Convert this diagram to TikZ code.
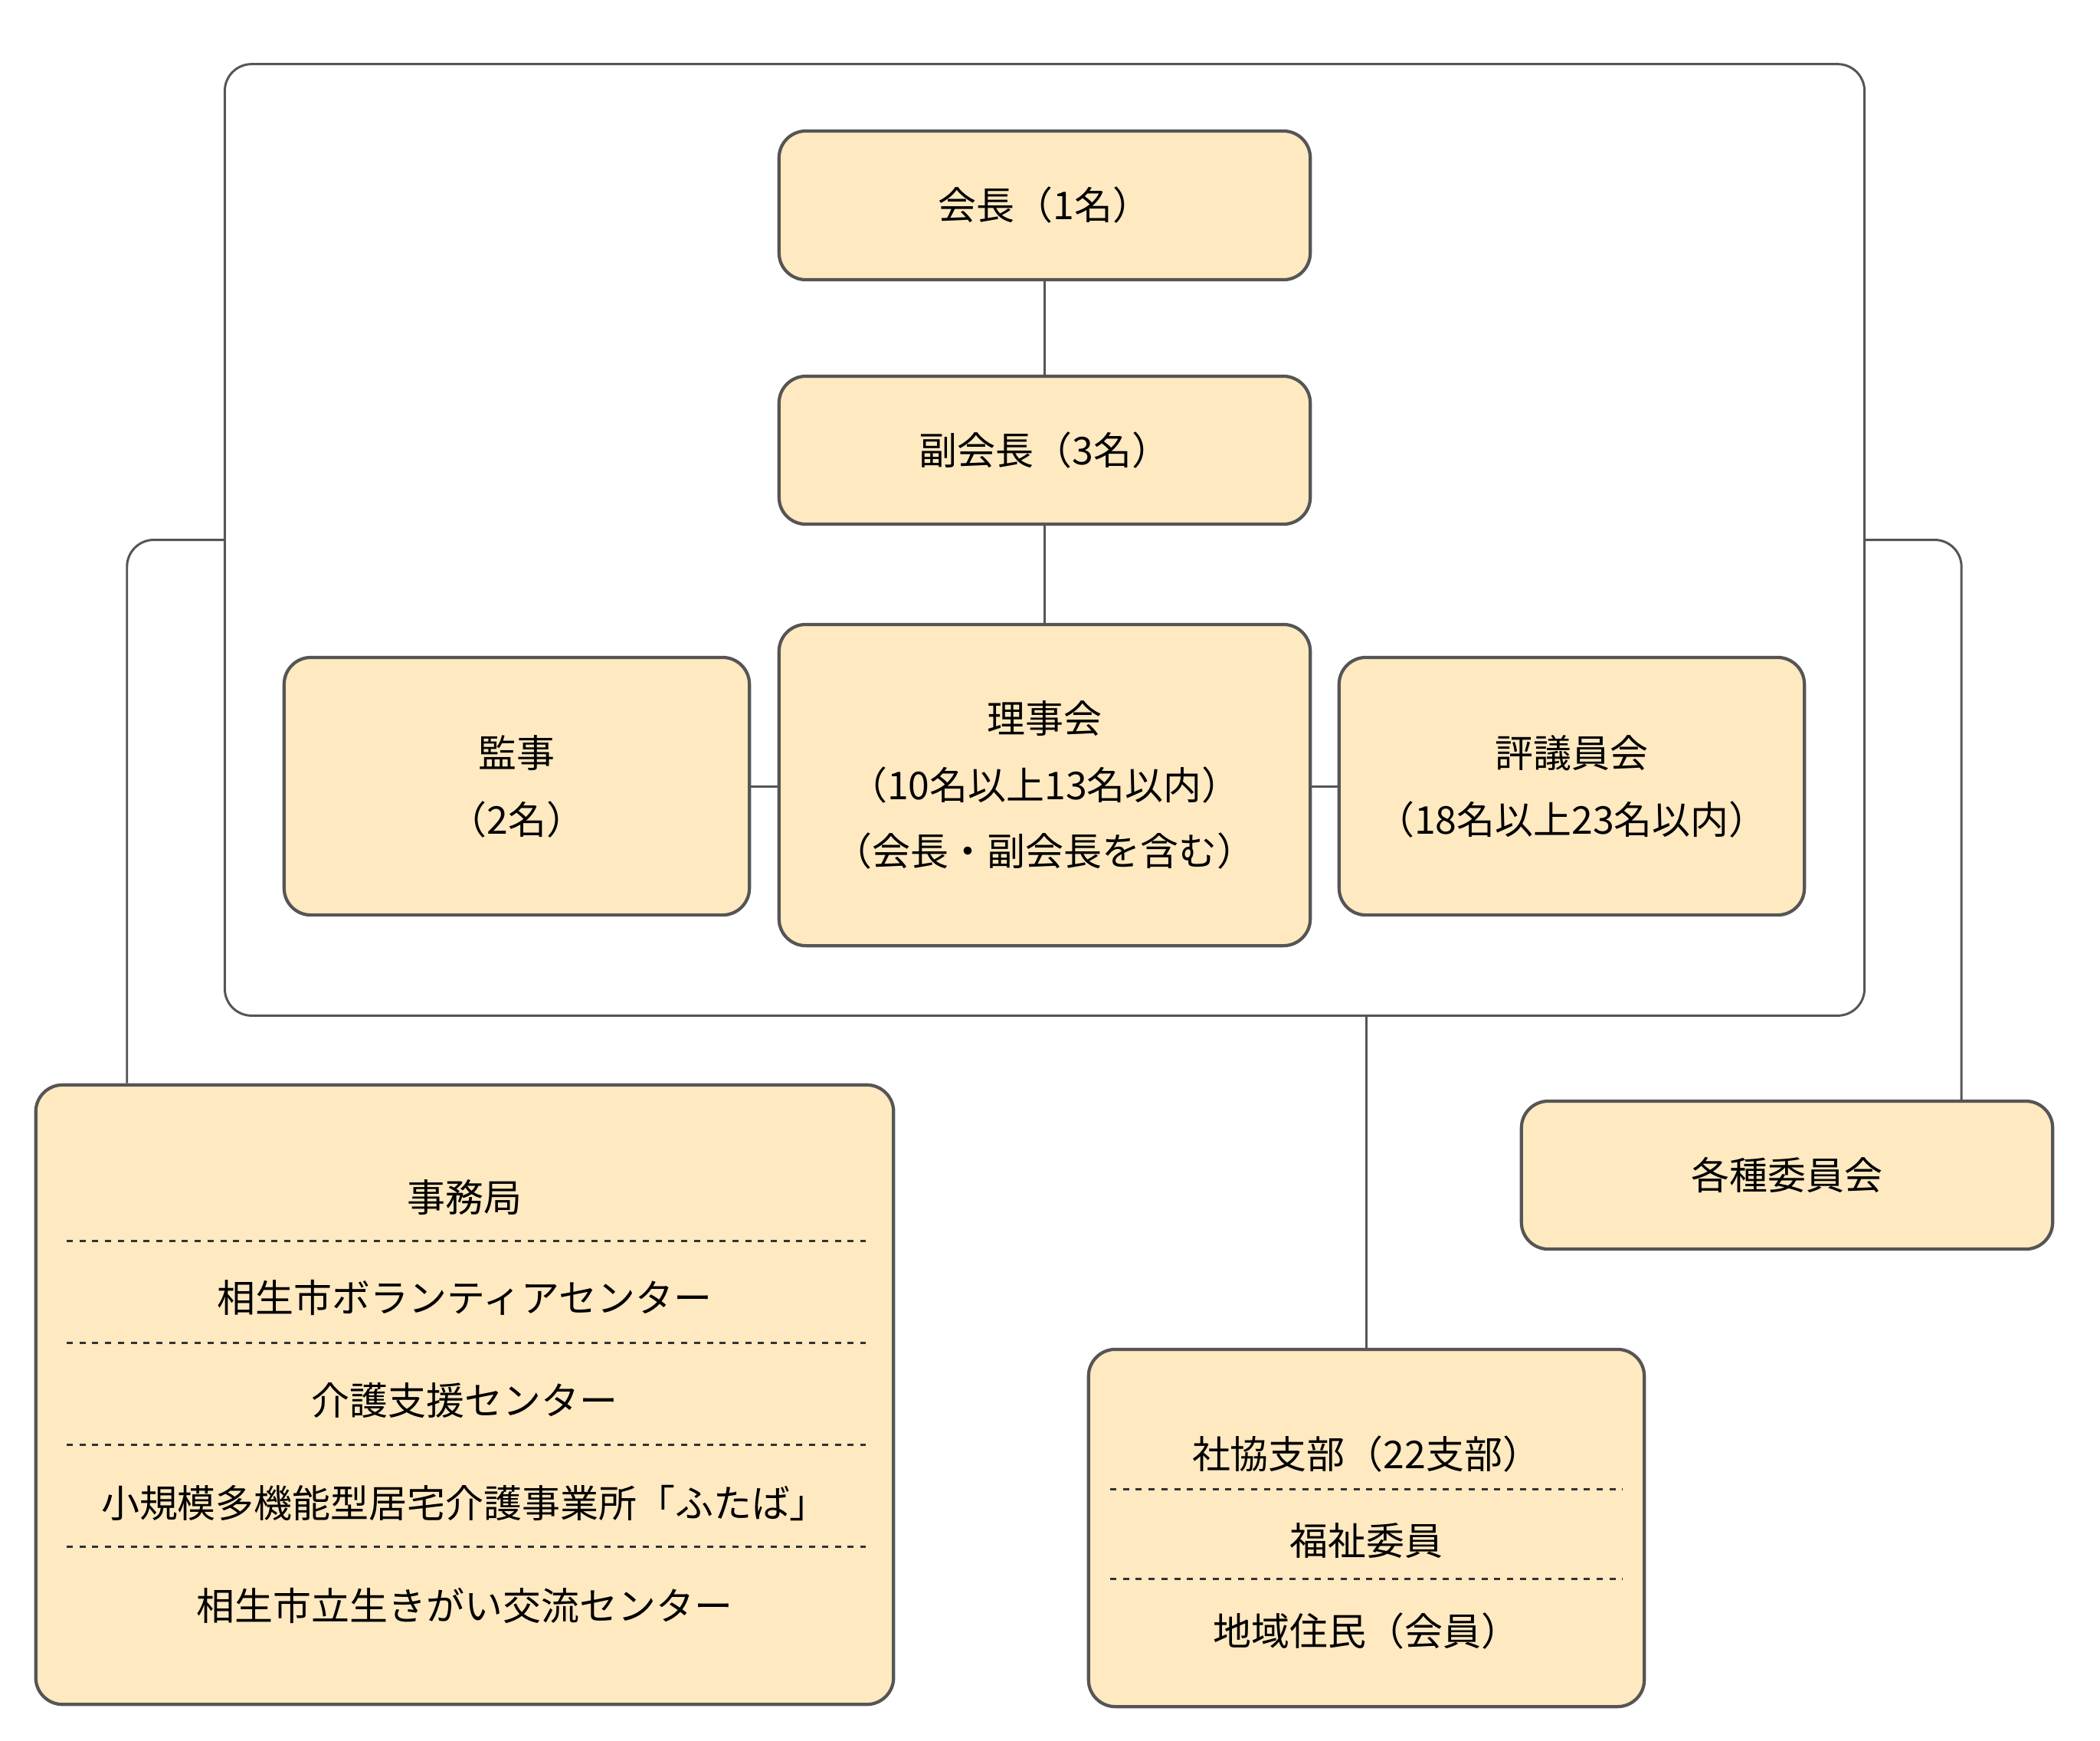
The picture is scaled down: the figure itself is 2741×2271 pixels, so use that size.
\documentclass[tikz,border=0pt]{standalone}
\usepackage{fontspec}
\setmainfont{Noto Sans CJK JP}
\definecolor{boxfill}{HTML}{FEE9C1}
\definecolor{edge}{HTML}{555555}
\definecolor{sepc}{HTML}{333333}
\begin{document}
\begin{tikzpicture}[x=0.01cm,y=-0.01cm,
  box/.style={draw=edge, line width=1.2pt, fill=boxfill, rounded corners=0.35cm, inner sep=0pt,
    font=\fontsize{14.2pt}{24.7pt}\selectfont, align=center, text=black},
  conn/.style={draw=edge, line width=0.85pt},
  sepline/.style={draw=sepc, line width=0.85pt, dash pattern=on 0.08cm off 0.087cm},
  lbl/.style={font=\fontsize{14.2pt}{24.7pt}\selectfont, align=center, inner sep=0pt, text=black}]
\useasboundingbox (0,0) rectangle (2741,2271);

% outer frame
\node[draw=edge, line width=0.85pt, rounded corners=0.35cm, minimum width=21.39cm, minimum height=12.41cm, inner sep=0pt] (outer) at (1363.5,704.5) {};

% boxes
\node[box, minimum width=6.93cm, minimum height=1.94cm] (kaicho) at (1363.5,268) {会長（1名）};
\node[box, minimum width=6.93cm, minimum height=1.93cm] (fuku) at (1363.5,587.5) {副会長（3名）};
\node[box, minimum width=6.93cm, minimum height=4.19cm] (riji) at (1363.5,1024.5) {理事会\\（10名以上13名以内）\\（会長・副会長を含む）};
\node[box, minimum width=6.07cm, minimum height=3.36cm] (kanji) at (674.5,1026) {監事\\（2名）};
\node[box, minimum width=6.07cm, minimum height=3.36cm] (hyogi) at (2051.5,1026) {評議員会\\（18名以上23名以内）};
\node[box, minimum width=11.19cm, minimum height=8.08cm] (jimu) at (606.5,1820) {};
\node[box, minimum width=6.93cm, minimum height=1.93cm] (kakushu) at (2332.5,1533.5) {各種委員会};
\node[box, minimum width=7.25cm, minimum height=4.66cm] (shakyo) at (1783.5,1994) {};

% connectors
\draw[conn] (kaicho) -- (fuku);
\draw[conn] (fuku) -- (riji);
\draw[conn] (kanji.east) -- (kanji.east -| riji.west);
\draw[conn] (hyogi.west -| riji.east) -- (hyogi.west);
\draw[conn, rounded corners=0.35cm] (outer.west) -| ([xshift=-4.405cm]jimu.north);
\draw[conn, rounded corners=0.35cm] (outer.east) -| ([xshift=2.275cm]kakushu.north);
\draw[conn] (outer.south -| shakyo.north) -- (shakyo.north);

% jimu contents
\node[lbl] (j1) at (606.5,1563) {事務局};
\node[lbl] (j2) at (606.5,1693) {相生市ボランティアセンター};
\node[lbl] (j3) at (606.5,1828) {介護支援センター};
\node[lbl] (j4) at (606.5,1961) {小規模多機能型居宅介護事業所「ふたば」};
\node[lbl] (j5) at (606.5,2095) {相生市立生きがい交流センター};
\draw[sepline] (87,1619) -- (1130,1619);
\draw[sepline] (87,1752) -- (1130,1752);
\draw[sepline] (87,1885) -- (1130,1885);
\draw[sepline] (87,2018) -- (1130,2018);

% shakyo contents
\node[lbl] (s1) at (1783.5,1897) {社協支部（22支部）};
\node[lbl] (s2) at (1783.5,2011) {福祉委員};
\node[lbl] (s3) at (1783.5,2128) {地域住民（会員）};
\draw[sepline] (1449,1943) -- (2118,1943);
\draw[sepline] (1449,2060) -- (2118,2060);
\end{tikzpicture}
\end{document}
